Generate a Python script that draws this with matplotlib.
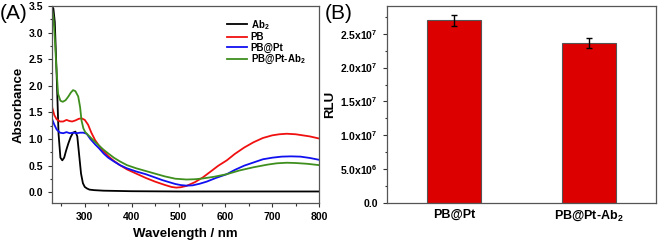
import numpy as np
import matplotlib
matplotlib.use('Agg')
import matplotlib.pyplot as plt
from matplotlib.ticker import MultipleLocator, FuncFormatter

plt.rcParams['font.family'] = 'Liberation Sans'
plt.rcParams['font.weight'] = 'bold'
plt.rcParams['mathtext.fontset'] = 'custom'
plt.rcParams['mathtext.rm'] = 'Liberation Sans:bold'
plt.rcParams['mathtext.bf'] = 'Liberation Sans:bold'
plt.rcParams['mathtext.it'] = 'Liberation Sans:bold'
plt.rcParams['mathtext.default'] = 'bf'

#%% Data, panel A (UV-vis)
wl_ab2 = [230, 233, 236, 240, 244, 248, 252, 256, 260, 265, 270, 275, 280, 284, 288,
          292, 296, 300, 305, 310, 320, 340, 370, 400, 500, 600, 700, 800]
abs_ab2 = [3.5, 3.45, 3.2, 2.2, 1.1, 0.65, 0.6, 0.65, 0.78, 0.92, 1.04, 1.12, 1.14, 1.05, 0.7,
           0.35, 0.17, 0.1, 0.07, 0.05, 0.04, 0.03, 0.025, 0.02, 0.015, 0.015, 0.015, 0.015]

wl_pb = [230, 235, 240, 247, 254, 261, 267, 273, 280, 287, 293, 300, 307, 314, 322, 330,
         340, 350, 362, 375, 390, 410, 430, 450, 470, 485, 495, 505, 517, 535, 552, 570,
         585, 603, 620, 640, 660, 680, 700, 715, 731, 750, 765, 780, 800]
abs_pb = [1.61, 1.45, 1.37, 1.33, 1.33, 1.36, 1.34, 1.33, 1.35, 1.38, 1.39, 1.36, 1.27, 1.12,
          0.98, 0.88, 0.77, 0.68, 0.59, 0.51, 0.43, 0.35, 0.27, 0.2, 0.14, 0.1, 0.088, 0.095,
          0.12, 0.19, 0.28, 0.4, 0.5, 0.6, 0.72, 0.84, 0.94, 1.02, 1.07, 1.09, 1.1, 1.09,
          1.07, 1.05, 1.01]

wl_pbpt = [230, 235, 240, 247, 254, 261, 268, 275, 283, 290, 297, 304, 312, 322, 330, 340,
           350, 362, 375, 390, 410, 430, 446, 465, 480, 493, 505, 517, 530, 545, 560, 580,
           603, 620, 640, 660, 680, 700, 720, 740, 760, 780, 800]
abs_pbpt = [1.38, 1.27, 1.18, 1.12, 1.11, 1.13, 1.11, 1.12, 1.11, 1.12, 1.12, 1.1, 1.0, 0.9,
            0.83, 0.73, 0.65, 0.58, 0.51, 0.45, 0.39, 0.34, 0.29, 0.23, 0.19, 0.156, 0.135,
            0.125, 0.13, 0.16, 0.2, 0.27, 0.34, 0.42, 0.5, 0.56, 0.62, 0.65, 0.67, 0.675,
            0.67, 0.645, 0.61]

wl_pbptab = [230, 233, 236, 239, 243, 248, 253, 259, 265, 270, 275, 280, 286, 290, 293, 297,
             301, 310, 318, 330, 340, 350, 362, 375, 390, 410, 430, 446, 470, 493, 517, 535,
             552, 575, 603, 630, 660, 690, 710, 731, 750, 775, 800]
abs_pbptab = [3.45, 3.3, 2.9, 2.4, 1.85, 1.72, 1.7, 1.73, 1.8, 1.87, 1.92, 1.9, 1.8, 1.6,
              1.35, 1.2, 1.13, 1.05, 0.98, 0.88, 0.8, 0.73, 0.65, 0.58, 0.51, 0.45, 0.4,
              0.36, 0.3, 0.255, 0.24, 0.245, 0.26, 0.29, 0.34, 0.41, 0.47, 0.52, 0.545,
              0.555, 0.55, 0.535, 0.51]

#%% Data, panel B (chemiluminescence)
samples = ['PB@Pt', 'PB@Pt-Ab$_2$']
rlu = [2.70e7, 2.365e7]
rlu_err = [0.08e7, 0.07e7]

#%% Figure
fig = plt.figure(figsize=(6.58, 2.41), dpi=100)
axA = fig.add_axes([0.079, 0.158, 0.406, 0.817])
axB = fig.add_axes([0.588, 0.158, 0.409, 0.817])

axA.plot(wl_ab2, abs_ab2, color='black', lw=1.3, label='Ab$_2$')
axA.plot(wl_pb, abs_pb, color='#f01010', lw=1.3, label='PB')
axA.plot(wl_pbpt, abs_pbpt, color='#1010f0', lw=1.3, label='PB@Pt')
axA.plot(wl_pbptab, abs_pbptab, color='#3f8f1f', lw=1.3, label='PB@Pt-Ab$_2$')
axA.set_xlim(230, 800)
axA.set_ylim(-0.2, 3.5)
axA.xaxis.set_major_locator(MultipleLocator(100))
axA.xaxis.set_minor_locator(MultipleLocator(50))
axA.yaxis.set_major_locator(MultipleLocator(0.5))
axA.yaxis.set_minor_locator(MultipleLocator(0.25))
axA.set_xlabel('Wavelength / nm', fontsize=9.5, fontweight='bold', labelpad=4)
axA.set_ylabel('Absorbance', fontsize=9.5, fontweight='bold', labelpad=3)
axA.legend(loc='upper right', frameon=False, fontsize=7, handlelength=2.0,
           handletextpad=0.4, labelspacing=0.05, bbox_to_anchor=(0.97, 0.97),
           borderaxespad=0.2)

bars = axB.bar([1, 2], rlu, width=0.4, color='#dd0000', edgecolor='#555555', lw=0.8)
axB.errorbar([1, 2], rlu, yerr=rlu_err, fmt='none', ecolor='black', elinewidth=1,
             capsize=2.5, capthick=1)
axB.set_xlim(0.5, 2.5)
axB.set_ylim(0, 2.91e7)
axB.set_xticks([1, 2])
axB.set_xticklabels(samples, fontsize=9, fontweight='bold')
axB.yaxis.set_major_locator(MultipleLocator(0.5e7))
axB.yaxis.set_minor_locator(MultipleLocator(0.25e7))


def sci_fmt(v, pos):
    if v <= 0:
        return '0.0'
    e = int(np.floor(np.log10(v)))
    return '%.1fx10$^{%d}$' % (v / 10**e, e)


axB.yaxis.set_major_formatter(FuncFormatter(sci_fmt))
axB.set_ylabel('RLU', fontsize=9.5, fontweight='bold', labelpad=3)

for ax in (axA, axB):
    for s in ax.spines.values():
        s.set_color('#555555')
        s.set_linewidth(0.9)
    ax.tick_params(which='both', direction='out', labelsize=7.5, width=0.8, color='#333333')
    ax.tick_params(which='major', length=3)
    ax.tick_params(which='minor', length=1.8)
    for lbl in ax.get_yticklabels() + ax.get_xticklabels():
        lbl.set_fontweight('bold')
axB.tick_params(axis='x', which='both', length=0, labelsize=9, pad=4)
axB.tick_params(axis='y', labelsize=7.5)

fig.text(0.0, 0.985, '(A)', fontsize=15, fontweight='normal', va='top', ha='left')
fig.text(0.493, 0.985, '(B)', fontsize=15, fontweight='normal', va='top', ha='left')

fig.savefig('out.png', dpi=100)
